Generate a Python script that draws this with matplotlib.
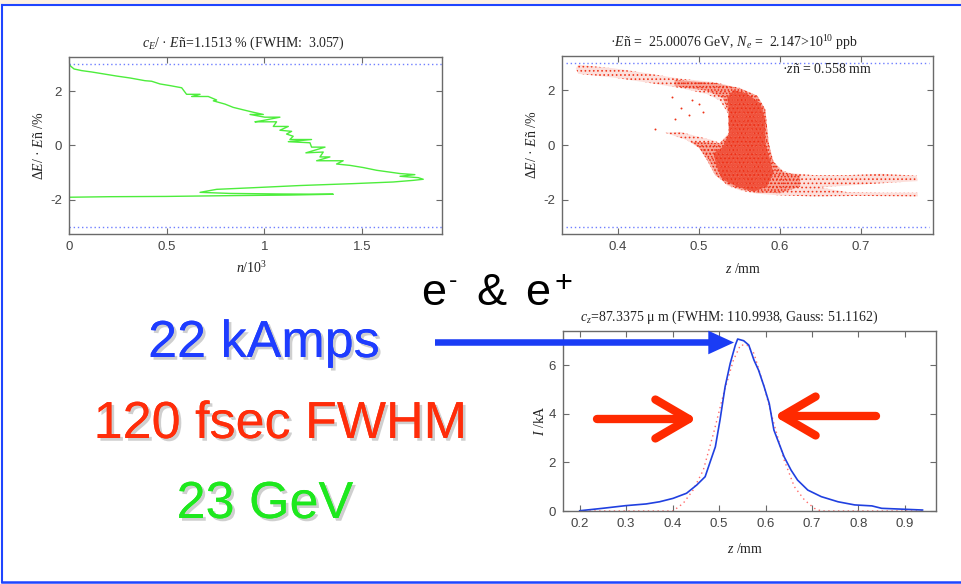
import numpy as np
import matplotlib
matplotlib.use("Agg")
import matplotlib.pyplot as plt
from matplotlib.patches import Polygon, Rectangle, FancyArrowPatch, ArrowStyle
from matplotlib.lines import Line2D
import matplotlib.patheffects as pe

plt.rcParams['font.family'] = ['Liberation Sans', 'DejaVu Sans']
plt.rcParams['mathtext.fontset'] = 'custom'
plt.rcParams['mathtext.rm'] = 'Liberation Serif'
plt.rcParams['mathtext.it'] = 'Liberation Serif:italic'
plt.rcParams['mathtext.bf'] = 'Liberation Serif:bold'
plt.rcParams['mathtext.sf'] = 'Liberation Sans'
plt.rcParams['axes.unicode_minus'] = False
plt.rcParams['hatch.linewidth'] = 0.7

# ---------------- data ----------------
# energy spectrum: particle count (n/10^3) versus energy offset (%)
spec_n = [0.000, 0.009, 0.026, 0.065, 0.116, 0.176, 0.244, 0.312, 0.389, 0.423,
          0.466, 0.517, 0.577, 0.602, 0.671, 0.628, 0.713, 0.756, 0.739, 0.799,
          0.841, 0.892, 0.944, 0.995, 0.927, 1.003, 1.080, 0.995, 0.952, 1.063,
          1.046, 1.123, 1.080, 1.140, 1.114, 1.148, 1.131, 1.242, 1.123, 1.234,
          1.242, 1.311, 1.213, 1.302, 1.285, 1.336, 1.268, 1.404, 1.370, 1.439,
          1.507, 1.575, 1.635, 1.695, 1.771, 1.695, 1.788, 1.814, 1.763, 1.660,
          1.456, 1.183, 0.944, 0.756, 0.671, 0.824, 1.080, 1.353, 1.131, 0.840,
          0.500, 0.210, 0.000]
spec_dE = [3.03, 2.91, 2.81, 2.75, 2.70, 2.63, 2.55, 2.48, 2.38, 2.36,
           2.26, 2.20, 2.12, 1.88, 1.88, 1.80, 1.80, 1.67, 1.64, 1.52,
           1.40, 1.31, 1.22, 1.14, 1.14, 1.04, 1.04, 0.92, 0.87, 0.87,
           0.70, 0.70, 0.56, 0.52, 0.42, 0.34, 0.22, 0.22, 0.14, 0.10,
           -0.06, -0.06, -0.27, -0.24, -0.42, -0.42, -0.56, -0.56, -0.68, -0.73,
           -0.81, -0.91, -0.97, -1.03, -1.07, -1.13, -1.18, -1.24, -1.28, -1.34,
           -1.40, -1.47, -1.55, -1.61, -1.72, -1.76, -1.78, -1.79, -1.82, -1.84,
           -1.87, -1.88, -1.90]

# longitudinal phase space: outline of the whole particle cloud (z mm, dE %)
cloud_z = [0.348, 0.351, 0.395, 0.436, 0.477, 0.518, 0.551, 0.572, 0.582, 0.584,
           0.586, 0.590, 0.598, 0.612, 0.642, 0.683, 0.724, 0.769, 0.770, 0.724,
           0.683, 0.650, 0.683, 0.724, 0.770, 0.770, 0.700, 0.642, 0.600, 0.572,
           0.551, 0.535, 0.522, 0.514, 0.500, 0.485, 0.465, 0.458, 0.477, 0.497,
           0.514, 0.526, 0.537, 0.536, 0.526, 0.510, 0.477, 0.436, 0.395, 0.351]
cloud_dE = [2.80, 2.93, 2.80, 2.62, 2.42, 2.30, 2.08, 1.80, 1.30, 0.70,
            0.10, -0.50, -0.88, -1.02, -1.10, -1.10, -1.05, -1.12, -1.32, -1.40,
            -1.48, -1.55, -1.72, -1.74, -1.74, -1.88, -1.86, -1.88, -1.84, -1.78,
            -1.66, -1.48, -1.08, -0.60, -0.10, 0.18, 0.38, 0.45, 0.48, 0.32,
            0.20, 0.08, 0.45, 1.15, 1.62, 1.86, 2.08, 2.28, 2.46, 2.60]
# moderately populated region: end of the upper arm, lower arm and tail root
mid_z = [0.470, 0.520, 0.551, 0.572, 0.582, 0.586, 0.592, 0.605, 0.625, 0.625,
         0.600, 0.572, 0.551, 0.535, 0.520, 0.510, 0.500, 0.490, 0.510, 0.526,
         0.537, 0.536, 0.530, 0.510, 0.470]
mid_dE = [2.38, 2.26, 2.06, 1.80, 1.30, 0.10, -0.60, -1.00, -1.10, -1.52,
          -1.76, -1.74, -1.62, -1.44, -1.10, -0.55, -0.10, 0.12, 0.10, 0.06,
          0.40, 1.20, 1.70, 1.98, 2.15]
# densely populated core of the bunch
core_z = [0.543, 0.559, 0.576, 0.582, 0.582, 0.588, 0.592, 0.584, 0.568, 0.547,
          0.530, 0.522, 0.518, 0.530, 0.537, 0.537, 0.535]
core_dE = [2.00, 1.88, 1.52, 0.91, 0.06, -0.55, -1.03, -1.52, -1.70, -1.52,
           -1.27, -0.79, -0.30, -0.06, 0.42, 1.27, 1.76]
# isolated macro-particles between the two arms
stray_z = [0.446, 0.467, 0.488, 0.500, 0.470, 0.505, 0.492, 0.478]
stray_dE = [0.58, 1.76, 1.10, 1.50, 0.95, 1.20, 1.65, 1.35]

# current profile I(z) and its Gaussian fit
prof_z = [0.200, 0.249, 0.299, 0.343, 0.372, 0.401, 0.430, 0.452, 0.470, 0.481,
          0.492, 0.502, 0.513, 0.524, 0.535, 0.540, 0.553, 0.564, 0.575, 0.585,
          0.597, 0.608, 0.618, 0.629, 0.640, 0.655, 0.669, 0.691, 0.720, 0.756,
          0.792, 0.829, 0.850, 0.901, 0.938]
prof_I = [0.01, 0.11, 0.22, 0.29, 0.38, 0.52, 0.73, 1.07, 1.41, 2.03,
          2.64, 3.74, 5.11, 6.07, 6.82, 7.07, 7.00, 6.82, 6.21, 5.79,
          5.11, 4.42, 3.33, 2.78, 2.23, 1.68, 1.27, 0.86, 0.59, 0.38,
          0.25, 0.21, 0.11, 0.07, 0.04]
fit_z = [0.200, 0.300, 0.401, 0.423, 0.444, 0.466, 0.488, 0.510, 0.531, 0.546,
         0.560, 0.575, 0.597, 0.618, 0.640, 0.662, 0.684, 0.705, 0.720, 0.800, 0.940]
fit_I = [0.00, 0.00, 0.00, 0.32, 0.86, 1.68, 3.19, 4.84, 6.21, 6.82,
         6.82, 6.48, 5.11, 3.60, 2.10, 1.00, 0.45, 0.11, 0.00, 0.00, 0.00]

# ---------------- figure ----------------
W, H = 961, 584
fig = plt.figure(figsize=(W / 100, H / 100), dpi=100)
fig.patch.set_facecolor('white')

SERIF = 'Liberation Serif'
SANS = ['Liberation Sans', 'DejaVu Sans']
TXT = '#222222'


def px_axes(left, top, right, bottom):
    return fig.add_axes([left / W, 1 - bottom / H, (right - left) / W, (bottom - top) / H])


def style(ax):
    for s in ax.spines.values():
        s.set_color('#6a6a6a')
        s.set_linewidth(1.0)
    ax.tick_params(direction='in', top=True, right=True, length=4, width=0.8,
                   colors='#6a6a6a', labelcolor='#444444', labelsize=9.5, pad=5)


def title(ax, x, dy_px, h_px, s):
    ax.text(x, 1 + dy_px / h_px, s, transform=ax.transAxes, ha='center',
            va='baseline', fontsize=10, family=SERIF, color=TXT)


# energy spectrum
ax1 = px_axes(69, 57, 442, 234)
ax1.plot(spec_n, spec_dE, color='#4ded3c', lw=1.0)
for yv in (3, -3):
    ax1.axhline(yv, color='#6f7fff', ls=(0, (1, 2)), lw=1.0)
ax1.set_xlim(0, 1.91)
ax1.set_ylim(-3.25, 3.25)
ax1.set_xticks([0, 0.5, 1, 1.5])
ax1.set_xticklabels(['0', '0.5', '1', '1.5'])
ax1.set_yticks([-2, 0, 2])
style(ax1)
title(ax1, 0.468, 10, 177, r'$c_E$/ · $E$ñ=1.1513 % (FWHM:  3.057)')
ax1.set_xlabel(r'$n$/10$^3$', family=SERIF, fontsize=10, color=TXT)
ax1.xaxis.set_label_coords(0.49, -0.15)
ax1.set_ylabel(r'$\Delta E$/ · $E$ñ /%', family=SERIF, fontsize=10, color=TXT)
ax1.yaxis.set_label_coords(-0.062, 0.5)

# longitudinal phase space
ax2 = px_axes(562, 56, 933, 234)
ax2.add_patch(Polygon(np.column_stack([cloud_z, cloud_dE]), closed=True,
                      facecolor=(0.95, 0.25, 0.15, 0.16), edgecolor='#f03a20',
                      lw=0, hatch='....'))
ax2.add_patch(Polygon(np.column_stack([mid_z, mid_dE]), closed=True,
                      facecolor=(0.94, 0.22, 0.10, 0.35), edgecolor='#ec2a10',
                      lw=0, hatch='.....'))
ax2.add_patch(Polygon(np.column_stack([core_z, core_dE]), closed=True,
                      facecolor=(0.93, 0.16, 0.06, 0.65), edgecolor='#f26a55',
                      lw=0, hatch='.....'))
ax2.scatter(stray_z, stray_dE, s=2, color='#ee3318', lw=0)
for yv in (3, -3):
    ax2.axhline(yv, color='#6f7fff', ls=(0, (1, 2)), lw=1.0, xmin=0.01, xmax=0.99)
ax2.set_xlim(0.331, 0.789)
ax2.set_ylim(-3.25, 3.25)
ax2.set_xticks([0.4, 0.5, 0.6, 0.7])
ax2.set_yticks([-2, 0, 2])
style(ax2)
title(ax2, 0.463, 9.3, 178, r'·$E$ñ =  25.00076 GeV, $N_e$ =  2.147>10$^{10}$ ppb')
ax2.text(0.602, 2.79, r'·$z$ñ = 0.558 mm', family=SERIF, fontsize=10,
         color=TXT, va='center', ha='left')
ax2.set_xlabel(r'$z$ /mm', family=SERIF, fontsize=10, color=TXT)
ax2.xaxis.set_label_coords(0.488, -0.16)
ax2.set_ylabel(r'$\Delta E$/ · $E$ñ /%', family=SERIF, fontsize=10, color=TXT)
ax2.yaxis.set_label_coords(-0.061, 0.5)

# current profile
ax3 = px_axes(563, 331, 936, 511)
ax3.plot(fit_z, fit_I, color='#ff6a6a', ls=(0, (1, 2.5)), lw=1.0)
ax3.plot(prof_z, prof_I, color='#2040e0', lw=1.2)
ax3.set_xlim(0.164, 0.967)
ax3.set_ylim(0, 7.4)
ax3.set_xticks([0.2, 0.3, 0.4, 0.5, 0.6, 0.7, 0.8, 0.9])
ax3.set_yticks([0, 2, 4, 6])
style(ax3)
title(ax3, 0.446, 10.3, 180, r'$c_z$=87.3375 μ m (FWHM: 110.9938, Gauss: 51.1162)')
ax3.set_xlabel(r'$z$ /mm', family=SERIF, fontsize=10, color=TXT)
ax3.xaxis.set_label_coords(0.4875, -0.17)
ax3.set_ylabel(r'$I$ /kA', family=SERIF, fontsize=10, color=TXT)
ax3.yaxis.set_label_coords(-0.044, 0.5)

# ---------------- slide overlay (pixel coordinates) ----------------
ov = fig.add_axes([0, 0, 1, 1], zorder=10)
ov.set_xlim(0, W)
ov.set_ylim(H, 0)
ov.axis('off')
ov.patch.set_visible(False)

# frame of the slide
ov.add_patch(Rectangle((0, 0), W, 4, facecolor='#fdf1e2', edgecolor='none'))
ov.add_line(Line2D([2, 2], [4.5, 582], color='#1f45ff', lw=1.5))
ov.add_line(Line2D([2, W], [4.5, 4.5], color='#1f45ff', lw=1.5))
ov.add_line(Line2D([2, W], [582, 582], color='#1f45ff', lw=1.8))

shadow = [pe.withSimplePatchShadow(offset=(2, -2), shadow_rgbFace='#777777', alpha=0.35),
          pe.Normal()]
big = dict(fontsize=37.5, family=SANS, ha='center', va='baseline')
ov.text(264, 357, '22 kAmps', color='#1e3cff', path_effects=shadow, **big)
ov.text(280.5, 438, '120 fsec FWHM', color='#ff2d0a', path_effects=shadow, **big)
ov.text(265, 518, '23 GeV', color='#1ee81e', path_effects=shadow, **big)

# particle species heading, charges set as small raised signs
sp = dict(color='black', family=SANS, ha='left', va='baseline')
ov.text(421, 305, 'e', fontsize=32.5, **sp)
ov.text(449, 287.5, '-', fontsize=18, **sp)
ov.text(476, 305, '&', fontsize=32.5, **sp)
ov.text(525, 305, 'e', fontsize=32.5, **sp)
ov.text(554, 292, '+', fontsize=22, **sp)

# arrows
blue = FancyArrowPatch((435, 342.5), (734, 342.5),
                       arrowstyle=ArrowStyle('simple', head_length=18.5, head_width=17, tail_width=4.7),
                       mutation_scale=1, shrinkA=0, shrinkB=0, color='#1a3cf5', lw=0)
ov.add_patch(blue)
chev = ArrowStyle('->', head_length=24, head_width=14)
ov.add_patch(FancyArrowPatch((597, 419), (697, 419), arrowstyle=chev, mutation_scale=1,
                             shrinkA=0, shrinkB=0, color='#ff2a00', lw=6))
ov.add_patch(FancyArrowPatch((876, 416), (774, 416), arrowstyle=chev, mutation_scale=1,
                             shrinkA=0, shrinkB=0, color='#ff2a00', lw=6))

fig.savefig('out.png', dpi=100)
